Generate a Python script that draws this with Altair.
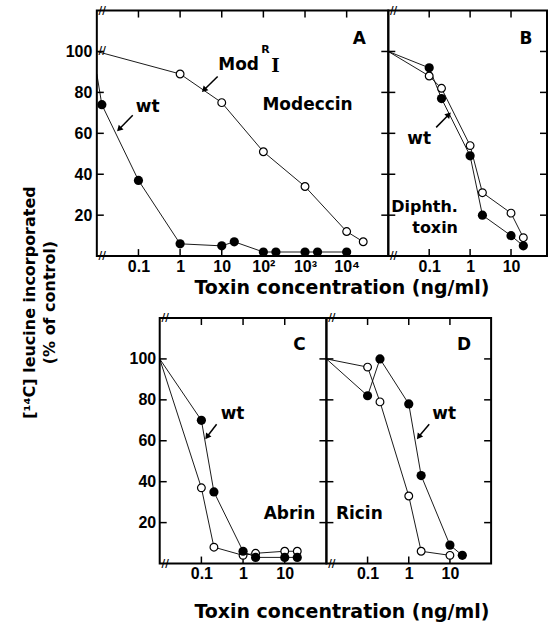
import altair as alt
import pandas as pd

# ---------------- data ----------------
# Panel A - Modeccin (open = Mod^R I mutant, filled = wt)
a_mut_x = [0.01, 1, 10, 100, 1000, 10000, 25000]
a_mut_y = [100, 89, 75, 51, 34, 12, 7]
a_wt_x = [0.01, 0.0132, 0.1, 1, 10, 20, 100, 200, 1000, 2000, 10000]
a_wt_y = [89, 74, 37, 6, 5, 7, 2, 2, 2, 2, 2]
# Panel B - Diphtheria toxin
b_mut_x = [0.01, 0.1, 0.2, 1, 2, 10, 20]
b_mut_y = [100, 88, 82, 54, 31, 21, 9]
b_wt_x = [0.01, 0.1, 0.2, 1, 2, 10, 20]
b_wt_y = [100, 92, 77, 49, 20, 10, 5]
# Panel C - Abrin
c_mut_x = [0.01, 0.1, 0.2, 1, 2, 10, 20]
c_mut_y = [100, 37, 8, 4, 5, 6, 6]
c_wt_x = [0.01, 0.1, 0.2, 1, 2, 10, 20]
c_wt_y = [100, 70, 35, 6, 3, 3, 3]
# Panel D - Ricin
d_mut_x = [0.01, 0.1, 0.2, 1, 2, 10]
d_mut_y = [100, 96, 79, 33, 6, 4]
d_wt_x = [0.01, 0.1, 0.2, 1, 2, 10, 20]
d_wt_y = [100, 82, 100, 78, 43, 9, 4]

# tick values / labels
y_ticks = [20, 40, 60, 80, 100]
a_x_ticks = [0.1, 1, 10, 100, 1000, 10000]
a_x_labels = ["0.1", "1", "10", "10²", "10³", "10⁴"]
s_x_ticks = [0.1, 1, 10]
s_x_labels = ["0.1", "1", "10"]

# annotations (text, x, y) in data units
a_notes = [("A", 20000, 106), ("wt", 0.167, 73), ("Modeccin", 1150, 73.7), ("Mod", 25.4, 93.2)]
b_notes = [("B", 23.2, 106), ("wt", 0.057, 57)]
b_notes_left = [("Diphth.", 0.0118, 24), ("toxin", 0.0385, 13.7)]
c_notes = [("C", 22.5, 107), ("wt", 0.56, 73), ("Abrin", 13, 24)]
d_notes = [("D", 22.1, 107), ("wt", 7.26, 73), ("Ricin", 0.063, 24)]
# arrows: tail x, tail y, head x, head y, head angle
a_arrows = [(0.0729, 68.8, 0.0356, 62.4, 225), (7.98, 87.8, 3.89, 81.5, 225)]
b_arrows = [(0.148, 62.9, 0.29, 68.8, 45)]
c_arrows = [(0.232, 68.1, 0.141, 62.3, 217)]
d_arrows = [(3.14, 68.1, 1.80, 62.3, 217)]

H = 246
TICK = 7
NOTE_FONT = "DejaVu Sans"
LABEL_FONT = "Liberation Sans Narrow, Liberation Sans"


def series_df(mx, my, wx, wy):
    rows = []
    for i, (x, y) in enumerate(zip(mx, my)):
        rows.append({"x": x, "y": y, "s": "mut", "i": i, "m": i > 0})
    for i, (x, y) in enumerate(zip(wx, wy)):
        rows.append({"x": x, "y": y, "s": "wt", "i": i, "m": i > 0})
    return pd.DataFrame(rows)


def label_expr(ticks, labels):
    expr = "''"
    for t, l in reversed(list(zip(ticks, labels))):
        expr = f"datum.value == {t} ? '{l}' : ({expr})"
    return expr


def panel(df, xmax, width, xticks, xlabels, notes, arrows, notes_left=None,
          show_y=False, xtitle=False, xtitle_x=0, xtitle_y=0, ytitle=False):
    xaxis = alt.Axis(values=xticks, labelExpr=label_expr(xticks, xlabels),
                     labelPadding=2, title="", labelFlush=False, labelOverlap=False)
    if xtitle:
        xaxis = alt.Axis(values=xticks, labelExpr=label_expr(xticks, xlabels),
                         labelPadding=2, labelFlush=False, labelOverlap=False,
                         title="Toxin concentration (ng/ml)", titleX=xtitle_x, titleY=xtitle_y,
                         titleAlign="center", titleBaseline="middle",
                         titleFont=NOTE_FONT, titleFontSize=19, titleFontWeight="bold")
    xs = alt.Scale(type="log", domain=[0.01, xmax], nice=False)
    ys = alt.Scale(domain=[0, 120], nice=False)
    if show_y:
        if ytitle:
            yaxis = alt.Axis(values=y_ticks, labelPadding=5,
                             title=["[¹⁴C] leucine incorporated", "(% of control)"],
                             titleX=-67, titleY=292, titleAlign="center", titleBaseline="middle",
                             titleFont=NOTE_FONT, titleFontSize=16, titleFontWeight="bold",
                             titleLineHeight=20)
        else:
            yaxis = alt.Axis(values=y_ticks, labelPadding=4, title="")
    else:
        yaxis = None
    X = alt.X("x:Q", scale=xs, axis=xaxis)
    Y = alt.Y("y:Q", scale=ys, axis=yaxis) if yaxis is not None else alt.Y("y:Q", scale=ys, axis=None)

    base = alt.Chart(df)
    lines = base.mark_line(color="black", strokeWidth=0.9).encode(
        x=X, y=Y, detail="s:N", order="i:Q")
    opens = base.transform_filter("datum.s == 'mut' && datum.m").mark_point(
        shape="circle", filled=True, fill="white", stroke="black", strokeWidth=1.2,
        size=60, opacity=1).encode(x=X, y=Y)
    fills = base.transform_filter("datum.s == 'wt' && datum.m").mark_circle(
        color="black", size=85, opacity=1).encode(x=X, y=Y)

    xt = alt.Chart(pd.DataFrame({"x": xticks}))
    top_t = xt.mark_rule(color="black", strokeWidth=1.5).encode(
        x=X, y=alt.value(0), y2=alt.value(TICK))
    bot_t = xt.mark_rule(color="black", strokeWidth=1.5).encode(
        x=X, y=alt.value(H), y2=alt.value(H - TICK))
    yt = alt.Chart(pd.DataFrame({"y": y_ticks}))
    left_t = yt.mark_rule(color="black", strokeWidth=1.5).encode(
        y=Y, x=alt.value(0), x2=alt.value(TICK))
    right_t = yt.mark_rule(color="black", strokeWidth=1.5).encode(
        y=Y, x=alt.value(width), x2=alt.value(width - TICK))

    brk = alt.Chart(pd.DataFrame({"x": [0.0135, 0.0135], "y": [120, 0], "t": ["//", "//"]})).mark_text(
        font=NOTE_FONT, fontSize=10, fontWeight="bold", color="black").encode(x=X, y=Y, text="t:N")

    ndf = pd.DataFrame(notes, columns=["t", "x", "y"])
    txt = alt.Chart(ndf).mark_text(font=NOTE_FONT, fontSize=17, fontWeight="bold",
                                   color="black").encode(x=X, y=Y, text="t:N")
    layers = [lines, top_t, bot_t, left_t, right_t, opens, fills, brk, txt]
    if notes_left:
        ldf = pd.DataFrame(notes_left, columns=["t", "x", "y"])
        layers.append(alt.Chart(ldf).mark_text(font=NOTE_FONT, fontSize=16, fontWeight="bold",
                                               color="black", align="left").encode(x=X, y=Y, text="t:N"))
    adf = pd.DataFrame(arrows, columns=["x", "y", "x2", "y2", "ang"])
    shaft = alt.Chart(adf).mark_rule(color="black", strokeWidth=1.5).encode(
        x=X, y=Y, x2="x2:Q", y2="y2:Q")
    head = alt.Chart(adf).mark_point(shape="triangle", filled=True, color="black",
                                     size=45, opacity=1).encode(
        x=alt.X("x2:Q", scale=xs, axis=xaxis), y=alt.Y("y2:Q", scale=ys, axis=yaxis),
        angle=alt.Angle("ang:Q", scale=None))
    layers += [shaft, head]
    return layers, X, Y


# Panel A
a_layers, AX, AY = panel(series_df(a_mut_x, a_mut_y, a_wt_x, a_wt_y), 1e5, 292,
                         a_x_ticks, a_x_labels, a_notes, a_arrows,
                         show_y=True, xtitle=True, xtitle_x=245, xtitle_y=31, ytitle=True)
modr_r = alt.Chart(pd.DataFrame({"t": ["R"], "x": [113], "y": [100.5]})).mark_text(
    font=NOTE_FONT, fontSize=11, fontWeight="bold", color="black").encode(x=AX, y=AY, text="t:N")
modr_i = alt.Chart(pd.DataFrame({"t": ["I"], "x": [196], "y": [92.2]})).mark_text(
    font="DejaVu Serif", fontSize=18, fontWeight="bold", color="black").encode(x=AX, y=AY, text="t:N")
brkA = alt.Chart(pd.DataFrame({"t": ["//"], "x": [0.0135], "y": [100]})).mark_text(
    font=NOTE_FONT, fontSize=10, fontWeight="bold", color="black").encode(x=AX, y=AY, text="t:N")
chartA = alt.layer(*a_layers, modr_r, modr_i, brkA).properties(width=292, height=H)

b_layers, _, _ = panel(series_df(b_mut_x, b_mut_y, b_wt_x, b_wt_y), 75.8, 159,
                       s_x_ticks, s_x_labels, b_notes, b_arrows, notes_left=b_notes_left)
chartB = alt.layer(*b_layers).properties(width=159, height=H)

c_layers, _, _ = panel(series_df(c_mut_x, c_mut_y, c_wt_x, c_wt_y), 100, 167,
                       s_x_ticks, s_x_labels, c_notes, c_arrows,
                       show_y=True, xtitle=True, xtitle_x=182, xtitle_y=48)
chartC = alt.layer(*c_layers).properties(width=167, height=H)

d_layers, _, _ = panel(series_df(d_mut_x, d_mut_y, d_wt_x, d_wt_y), 100, 165,
                       s_x_ticks, s_x_labels, d_notes, d_arrows)
chartD = alt.layer(*d_layers).properties(width=165, height=H)

spacer = alt.Chart(pd.DataFrame({"x": [1], "y": [1]})).mark_point(opacity=0).encode(
    x=alt.X("x:Q", axis=None), y=alt.Y("y:Q", axis=None)
).properties(width=63, height=H, view=alt.ViewBackground(strokeOpacity=0))

row1 = alt.hconcat(chartA, chartB, spacing=0, bounds="flush")
row2 = alt.hconcat(spacer, chartC, chartD, spacing=0, bounds="flush")

# nested flush rows report no height, so the row gap includes the panel height
chart = alt.vconcat(row1, row2, spacing=62 + H, bounds="flush").properties(
    padding={"left": 21, "top": 4, "right": 0, "bottom": 0},
    background="white",
).configure_view(stroke="black", strokeWidth=2).configure_axis(
    grid=False, domain=False, ticks=False, labelFont=LABEL_FONT, labelFontSize=16,
    labelFontWeight="bold", labelColor="black", titleColor="black")

chart.save("out.html", embed_options={"renderer": "svg", "actions": False})
